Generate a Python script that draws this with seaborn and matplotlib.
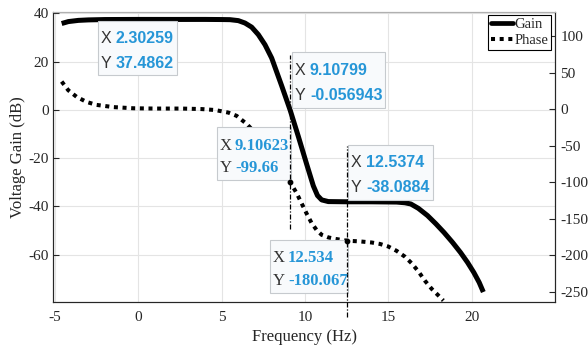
import matplotlib.pyplot as plt
import seaborn as sns
from matplotlib.patches import Rectangle
from matplotlib.lines import Line2D

# gain curve (left axis, dB)
gain_freq = [-4.6, -4.2, -3.6, -3.0, -2.0, 0.0, 2.3, 4.0, 5.0, 5.5, 6.0, 6.4, 6.8, 7.2, 7.6,
             8.0, 8.6, 9.108, 9.6, 10.1, 10.5, 10.75, 11.0, 11.4, 12.537, 14.0, 15.5, 16.0,
             16.35, 16.8, 17.35, 17.85, 18.34, 18.85, 19.33, 19.75, 20.13, 20.45, 20.7]
gain_db = [35.8, 36.6, 37.1, 37.3, 37.45, 37.5, 37.49, 37.5, 37.45, 37.4, 37.0, 36.0, 34.3, 31.2, 27.0,
           21.5, 10.0, -0.057, -11.0, -22.5, -31.5, -35.5, -37.3, -38.0, -38.09, -38.1, -38.2, -38.5,
           -39.0, -40.8, -43.8, -47.2, -50.8, -54.9, -59.1, -63.2, -67.4, -71.5, -75.5]

# phase curve (right axis, deg)
phase_freq = [-4.6, -4.2, -3.7, -3.1, -2.5, -1.5, -0.3, 1.0, 2.6, 3.8, 4.6, 5.4, 5.9, 6.5, 7.0,
              7.5, 8.0, 8.5, 9.106, 9.5, 9.8, 10.1, 10.4, 10.7, 11.0, 11.4, 11.8, 12.534, 13.3,
              14.0, 14.5, 15.0, 15.5, 16.0, 16.4, 16.8, 17.2, 17.6, 18.0, 18.3]
phase_deg = [38, 26, 17, 10, 6, 3, 1.4, 1, 1, 0.3, -1, -4.5, -9, -20, -32,
             -46, -61, -78, -99.66, -115, -129, -143, -156, -165.5, -172, -175.5, -177.5, -180.07, -181,
             -182.5, -184.5, -188, -194, -202, -211, -222, -235, -246, -255, -262]

# data tips: axis, x, y, text
tip_axis = ["gain", "gain", "phase", "gain", "phase"]
tip_x = ["2.30259", "9.10799", "9.10623", "12.5374", "12.534"]
tip_y = ["37.4862", "-0.056943", "-99.66", "-38.0884", "-180.067"]
# box layout in figure pixels: left, top, right, bottom, baseline1, baseline2, font, size
tip_boxes = [
    (98, 21, 177, 75, 43, 68, "Liberation Sans", 11.5),
    (292, 52, 385, 108, 75, 100, "Liberation Sans", 11.5),
    (217, 127, 291, 180, 150, 172, "Liberation Serif", 12),
    (348, 145, 433, 200, 167, 192, "Liberation Sans", 11.5),
    (270, 240, 348, 293, 262, 285, "Liberation Serif", 12),
]

# vertical guide lines (x, y range on gain axis)
guide_x = [9.10623, 12.534]
guide_lo = [-49.5, -85.7]
guide_hi = [22.6, -14.9]

W, H = 588, 356
BLUE = "#2696d7"
DARK = "#262626"

sns.set_style("white")
plt.rcParams["font.family"] = ["Liberation Serif", "DejaVu Serif"]
plt.rcParams["axes.unicode_minus"] = False

fig = plt.figure(figsize=(W / 100, H / 100), dpi=100)
ax = fig.add_axes([53 / W, 1 - 301.7 / H, (555 - 53) / W, (301.7 - 11.7) / H])
ax2 = ax.twinx()

sns.lineplot(x=gain_freq, y=gain_db, ax=ax, color="black", lw=3.6,
             sort=False, estimator=None, solid_capstyle="butt")
sns.lineplot(x=phase_freq, y=phase_deg, ax=ax2, color="black", lw=2.9,
             linestyle=(0, (1, 1.15)), dash_capstyle="butt",
             sort=False, estimator=None)

ax.set_xlim(-5.12, 25)
ax.set_ylim(-79.5, 40.7)
ax2.set_ylim(-263.6, 133.7)
ax.set_xticks([-5, 0, 5, 10, 15, 20])
ax.set_yticks([-60, -40, -20, 0, 20, 40])
ax2.set_yticks([-250, -200, -150, -100, -50, 0, 50, 100])

ax.grid(True, color="#e4e4e4", lw=0.8)
ax.set_axisbelow(True)
ax.tick_params(axis="both", direction="in", length=4, width=0.8, colors=DARK, labelsize=11)
ax.tick_params(axis="x", pad=7)
ax.tick_params(axis="y", pad=3)
ax2.tick_params(axis="y", direction="in", length=4, width=0.8, colors=DARK, labelsize=11, pad=4)

for a in (ax, ax2):
    for side in ("left", "bottom", "right"):
        a.spines[side].set_color(DARK)
        a.spines[side].set_linewidth(0.8)
    a.spines["top"].set_color("#b0b0b0")
    a.spines["top"].set_linewidth(0.8)

ax.set_xlabel("Frequency (Hz)", fontsize=12, color=DARK, labelpad=3)
ax.set_ylabel("Voltage Gain (dB)", fontsize=12, color=DARK, labelpad=2)
ax2.set_ylabel("")

# guide lines, drawn in gain units above everything
for gx, lo, hi in zip(guide_x, guide_lo, guide_hi):
    ax2.plot([gx, gx], [lo, hi], transform=ax.transData, color="black",
             lw=0.9, linestyle=(0, (4, 1.5, 1, 1.5)), zorder=8, clip_on=False)

# small markers on the phase tips
ph_tips = [(float(x), float(y)) for a, x, y in zip(tip_axis, tip_x, tip_y) if a == "phase"]
ax2.scatter([p[0] for p in ph_tips], [p[1] for p in ph_tips], s=10, color="black", zorder=9)

# data tip boxes
for (l, t, r, b, b1, b2, fam, fs), xs, ys in zip(tip_boxes, tip_x, tip_y):
    rect = Rectangle((l / W, 1 - b / H), (r - l) / W, (b - t) / H, transform=fig.transFigure,
                     facecolor="#f8fafc", edgecolor="#c6cace", lw=0.8, zorder=7)
    ax2.add_patch(rect)
    gap = 3 if fam.endswith("Sans") else 2
    for lab, val, base in (("X", xs, b1), ("Y", ys, b2)):
        t_lab = ax2.text((l + 3) / W, 1 - base / H, lab, transform=fig.transFigure,
                         family=fam, fontsize=fs, color="#333333", va="baseline",
                         ha="left", zorder=10)
        ax2.annotate(val, xy=(1, 0), xycoords=t_lab, xytext=(gap, 0), textcoords="offset points",
                     family=fam, fontsize=fs, fontweight="bold", color=BLUE,
                     va="bottom", ha="left", zorder=10)

handles = [Line2D([], [], color="black", lw=3.4),
           Line2D([], [], color="black", lw=2.9, linestyle=(0, (1, 1.15)))]
leg = ax2.legend(handles, ["Gain", "Phase"], loc="upper right",
                 prop={"family": "Liberation Serif", "size": 10.5},
                 frameon=True, fancybox=False, framealpha=1, edgecolor="black",
                 borderpad=0.2, handlelength=1.5, handletextpad=0.1,
                 labelspacing=0.15, borderaxespad=0.25)
leg.get_frame().set_linewidth(0.8)
leg.set_zorder(11)

fig.savefig("out.png", dpi=100)
